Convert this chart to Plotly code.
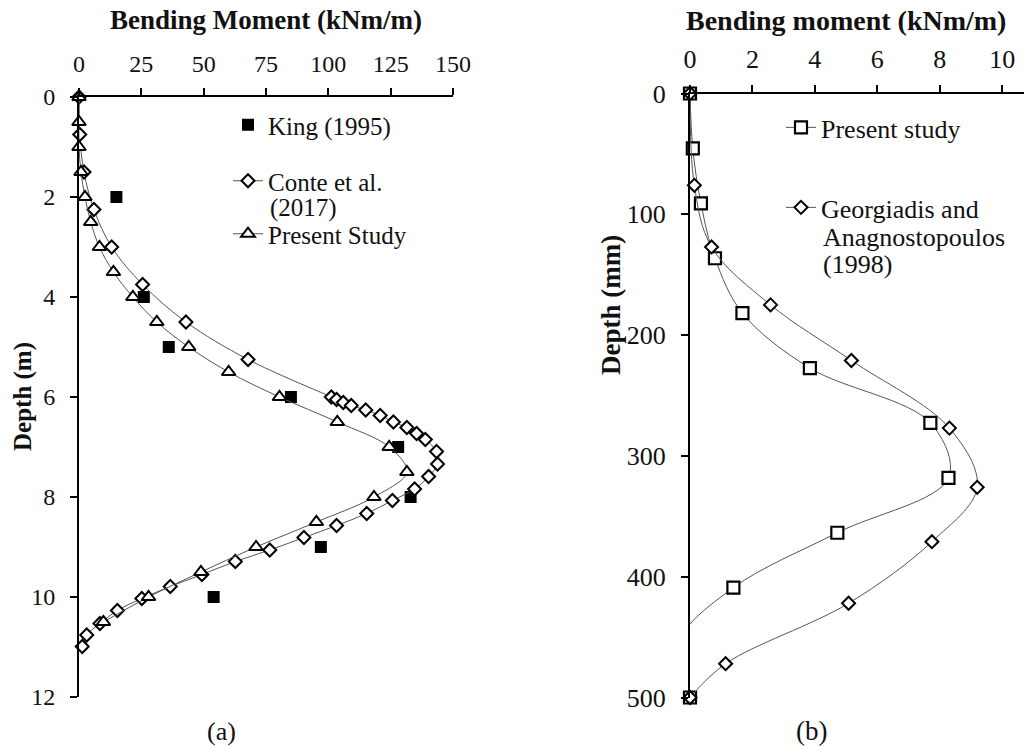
import plotly.graph_objects as go

# ---- (a) bending moment profiles, depth in m ----
king_depth = [2, 4, 5, 6, 7, 8, 9, 10]
king_moment = [15, 26, 36, 85, 128, 133, 97, 54]

conte_depth = [0, 0.75, 1.5, 2.25, 3.0, 3.75, 4.5, 5.25, 6.0, 6.05, 6.11, 6.17,
               6.26, 6.37, 6.5, 6.61, 6.73, 6.85, 7.09, 7.34, 7.59, 7.84, 8.07,
               8.33, 8.57, 8.81, 9.06, 9.29, 9.55, 9.79, 10.03, 10.27, 10.53,
               10.76, 10.99]
conte_moment = [0, 0.3, 2.0, 6.0, 13.1, 25.5, 42.9, 67.8, 101.2, 103.3, 106.0,
                109.2, 115.0, 120.8, 126.1, 131.5, 135.4, 138.9, 143.4, 143.8,
                140.2, 134.6, 125.7, 115.4, 103.3, 90.2, 76.5, 62.7, 49.3, 36.6,
                25.2, 15.4, 8.4, 3.1, 1.3]

present_a_depth = [0, 0.5, 1.0, 1.5, 2.0, 2.5, 3.0, 3.5, 4.0, 4.5, 5.0, 5.5,
                   6.0, 6.5, 7.0, 7.5, 8.0, 8.5, 9.0, 9.5, 10.0, 10.5]
present_a_moment = [0, 0, 0, 0.8, 2.4, 4.7, 8.2, 13.8, 21.6, 31.2, 44.0, 60.0,
                    80.4, 103.6, 124.4, 131.5, 118.3, 95.2, 71.0, 48.9, 27.9, 9.8]

# ---- (b) bending moment profiles, depth in mm ----
present_b_depth = [0, 45.5, 90.9, 136.4, 181.8, 227.3, 272.7, 318.2, 363.6,
                   409.1, 454.5, 500]
present_b_moment = [0, 0.09, 0.35, 0.8, 1.68, 3.84, 7.7, 8.28, 4.72, 1.39,
                    -0.35, 0]

georg_depth = [0, 76, 127, 175, 221, 277, 326, 371, 422, 472, 500]
georg_moment = [0, 0.14, 0.69, 2.58, 5.17, 8.31, 9.2, 7.75, 5.08, 1.14, 0]

FONT = "Liberation Serif"
INK = "#111111"
W, H = 1024, 746
LINE = dict(color="#555555", width=1, shape="spline", smoothing=1.0)
LEG_A, LEG_B = 25, 26


def px_x(p):
    return p / W


def px_y(p):
    return 1 - p / H


def open_marker(symbol, size, width=2):
    return dict(symbol=symbol, size=size, color="white",
                line=dict(color="black", width=width))


fig = go.Figure()

fig.add_trace(go.Scatter(
    x=king_moment, y=king_depth, name="King (1995)", mode="markers",
    marker=dict(symbol="square", size=12, color="black"),
    xaxis="x", yaxis="y", legend="legend", cliponaxis=False))
fig.add_trace(go.Scatter(
    x=conte_moment, y=conte_depth, name="Conte et al.",
    mode="lines+markers", line=LINE, marker=open_marker("diamond", 10),
    xaxis="x", yaxis="y", legend="legend2", cliponaxis=False))
fig.add_trace(go.Scatter(
    x=present_a_moment, y=present_a_depth, name="Present Study",
    mode="lines+markers", line=LINE, marker=open_marker("triangle-up", 12),
    xaxis="x", yaxis="y", legend="legend3", cliponaxis=False))

# points left of the axis carry the curve but get a transparent marker
shown = [m >= 0 for m in present_b_moment]
b_marker = dict(
    symbol="square", size=12,
    color=["white" if s else "rgba(0,0,0,0)" for s in shown],
    line=dict(width=2.2,
              color=["black" if s else "rgba(0,0,0,0)" for s in shown]))
fig.add_trace(go.Scatter(
    x=present_b_moment, y=present_b_depth, name="Present study",
    mode="lines+markers", line=LINE, marker=b_marker,
    xaxis="x2", yaxis="y2", legend="legend4", cliponaxis=False))
fig.add_trace(go.Scatter(
    x=georg_moment, y=georg_depth, name="Georgiadis and",
    mode="lines+markers", line=LINE, marker=open_marker("diamond", 10),
    xaxis="x2", yaxis="y2", legend="legend5", cliponaxis=False))

axis_common = dict(
    showline=True, linecolor="black", linewidth=2, showgrid=False,
    zeroline=False, ticks="outside", ticklen=7, tickwidth=2,
    tickcolor="black", fixedrange=True, automargin=False)
tick_a = dict(family=FONT, size=24, color=INK)
tick_b = dict(family=FONT, size=26, color=INK)

legend_common = dict(
    xanchor="left", yanchor="top", bgcolor="rgba(0,0,0,0)", valign="top",
    itemsizing="trace")


def leg(text_x, row_y, size):
    return dict(legend_common, x=px_x(text_x - 40),
                y=px_y(row_y - 1.04 * size),
                font=dict(family=FONT, size=size, color=INK))


fig.update_layout(
    width=W, height=H, margin=dict(l=0, r=0, t=0, b=0),
    plot_bgcolor="white", paper_bgcolor="white",
    xaxis=dict(axis_common, domain=[px_x(79), px_x(453)], range=[0, 150],
               dtick=25, side="top", anchor="y", ticklabelstandoff=6,
               tickfont=tick_a),
    yaxis=dict(axis_common, domain=[px_y(697), px_y(97)], range=[12, 0],
               dtick=2, anchor="x", ticklabelstandoff=10, tickfont=tick_a),
    xaxis2=dict(axis_common, domain=[px_x(690), 1.0], range=[0, 10.7],
                tickvals=[0, 2, 4, 6, 8, 10], side="top", anchor="y2",
                ticklabelstandoff=6, tickfont=tick_b),
    yaxis2=dict(axis_common, domain=[px_y(697.5), px_y(93.5)],
                range=[500, 0], dtick=100, anchor="x2", ticklabelstandoff=10,
                tickfont=tick_b),
    legend=leg(268, 128, LEG_A),
    legend2=leg(268, 184, LEG_A),
    legend3=leg(268, 237, LEG_A),
    legend4=leg(821, 131, LEG_B),
    legend5=leg(821, 211, LEG_B),
    showlegend=True,
)

notes = [
    dict(text="<b>Bending Moment (kNm/m)</b>", x=266, y=20, size=27),
    dict(text="<b>Bending moment (kNm/m)</b>", x=846, y=20, size=28),
    dict(text="<b>Depth (m)</b>", x=23, y=397, size=25, textangle=-90),
    dict(text="<b>Depth (mm)</b>", x=611, y=305, size=27, textangle=-90),
    dict(text="(a)", x=221, y=731, size=26),
    dict(text="(b)", x=811, y=731, size=27),
]
for n in notes:
    fig.add_annotation(
        xref="paper", yref="paper", showarrow=False, xanchor="center",
        yanchor="middle", text=n["text"], x=px_x(n["x"]), y=px_y(n["y"]),
        textangle=n.get("textangle", 0),
        font=dict(family=FONT, size=n["size"], color=INK))

# continuation lines of the multi-line legend entries
for text, tx, ty, size in [("(2017)", 268, 208, LEG_A),
                           ("Anagnostopoulos", 821, 237, LEG_B),
                           ("(1998)", 821, 264, LEG_B)]:
    fig.add_annotation(
        xref="paper", yref="paper", showarrow=False, xanchor="left",
        yanchor="middle", text=text, x=px_x(tx), y=px_y(ty),
        font=dict(family=FONT, size=size, color=INK))

fig.write_html("out.html")
